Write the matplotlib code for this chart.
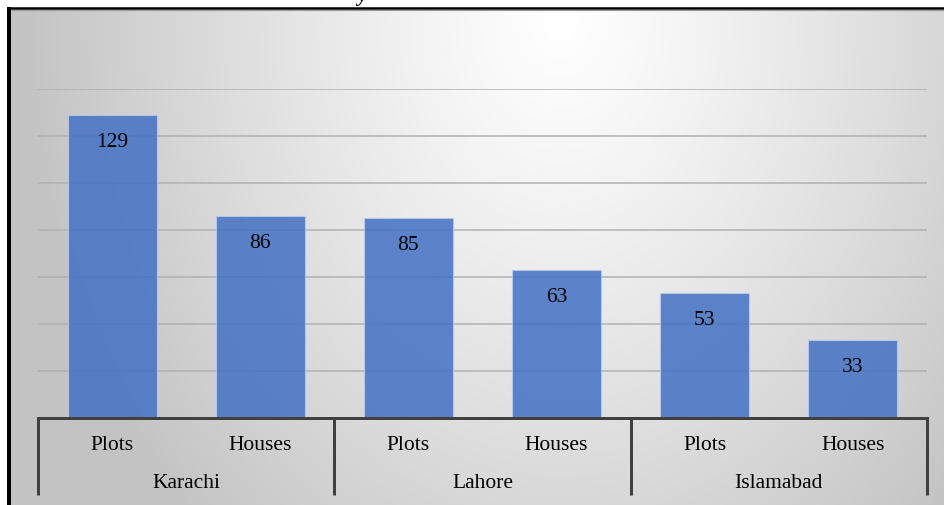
import numpy as np
import matplotlib
matplotlib.use("Agg")
import matplotlib.pyplot as plt
from matplotlib.lines import Line2D
from matplotlib.transforms import blended_transform_factory

# ---- data ----
cities = ["Karachi", "Lahore", "Islamabad"]
types = ["Plots", "Houses"]
values = [129, 86, 85, 63, 53, 33]

W, H = 945, 506
DPI = 100
fig = plt.figure(figsize=(W / DPI, H / DPI), dpi=DPI, facecolor="white")

# ---- gradient chart background (pixel coordinates) ----
x0_px, y0_px = 11, 10
bg = fig.add_axes([x0_px / W, 0, (W - x0_px) / W, (H - y0_px) / H], zorder=-10)
xs = np.arange(x0_px, W)
ys = np.arange(y0_px, H)
X, Y = np.meshgrid(xs, ys)
r = np.sqrt(((X - 560) / 540.0) ** 2 + ((Y - 20) / 700.0) ** 2)
shade = (255 - 60 * np.minimum(r, 1.0) ** 1.2) / 255.0
img = np.dstack([shade, shade, shade])
bg.imshow(img, aspect="auto", interpolation="bilinear")
bg.set_axis_off()

# outer frame: black left and top edges with thin grey inner line
frame = fig.add_axes([0, 0, 1, 1], zorder=-5)
frame.set_xlim(0, W)
frame.set_ylim(H, 0)
frame.set_axis_off()
frame.patch.set_alpha(0)
frame.add_line(Line2D([9, 9], [8, H], color="black", lw=4.0 * 72 / DPI, solid_capstyle="butt"))
frame.add_line(Line2D([7, W], [9, 9], color="black", lw=2.5 * 72 / DPI, solid_capstyle="butt"))
frame.add_line(Line2D([11, W], [10.8, 10.8], color="#9a9a9a", lw=1.2 * 72 / DPI, solid_capstyle="butt"))

# clipped title descender at the very top
fig.text(362 / W, 1 - 0.5 / H, "y", family="Liberation Serif", fontsize=15,
         fontweight="bold", style="italic", ha="center", va="baseline", color="black")

# ---- plot area ----
left_px, right_px = 38, 927
top_px, base_px = 90, 419
ax = fig.add_axes([left_px / W, (H - base_px) / H, (right_px - left_px) / W, (base_px - top_px) / H])
ax.patch.set_alpha(0)

n = len(values)
x = np.arange(n)
ax.set_xlim(-0.5, n - 0.5)
ax.set_ylim(0, 140)

for g in range(20, 141, 20):
    ax.axhline(g, color="#b0b0b0", lw=1.5 * 72 / DPI, zorder=1)

bars = ax.bar(x, values, width=0.6, color="#4472C4", alpha=0.86,
              edgecolor="#b9cbea", linewidth=0.8, zorder=2)

for xi, v in zip(x, values):
    ax.annotate(str(v), xy=(xi, v), xytext=(0, -19), textcoords="offset points",
                ha="center", va="center", family="Liberation Serif", fontsize=15.5,
                color="black", zorder=3)

for s in ax.spines.values():
    s.set_visible(False)
ax.set_xticks([])
ax.set_yticks([])

# ---- two-level category axis ----
trans = blended_transform_factory(ax.transData, ax.transAxes)
plot_h = base_px - top_px
axis_col = "#404040"
lw_axis = 3.0 * 72 / DPI
y_low = -(496 - base_px) / plot_h
ax.add_line(Line2D([-0.5, n - 0.5], [0, 0], transform=trans, color=axis_col,
                   lw=lw_axis, clip_on=False, zorder=4, solid_capstyle="projecting"))
for k in range(len(cities) + 1):
    xb = -0.5 + 2 * k
    ax.add_line(Line2D([xb, xb], [0, y_low], transform=trans, color=axis_col,
                       lw=lw_axis, clip_on=False, zorder=4, solid_capstyle="butt"))

y_type = -(446 - base_px) / plot_h
y_city = -(484 - base_px) / plot_h
for i in range(n):
    ax.text(x[i], y_type, types[i % 2], transform=trans, ha="center", va="center",
            family="Liberation Serif", fontsize=15.5, color="black")
for k, c in enumerate(cities):
    ax.text(2 * k + 0.5, y_city, c, transform=trans, ha="center", va="center",
            family="Liberation Serif", fontsize=15.5, color="black")

fig.savefig("out.png", dpi=DPI)
